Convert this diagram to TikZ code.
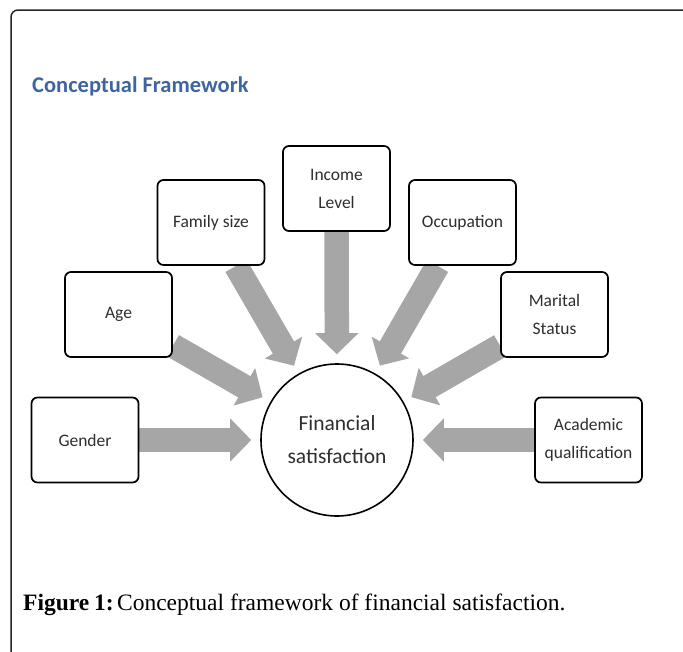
\documentclass[tikz,border=0pt]{standalone}
\usepackage{fontspec}
\setmainfont{Liberation Serif}
\newfontfamily\carlito{Carlito}
\usetikzlibrary{arrows.meta,backgrounds}
\definecolor{titleblue}{HTML}{3E65A0}
\definecolor{arrowgray}{HTML}{A6A6A6}
\definecolor{textgray}{HTML}{2E2E2E}
\begin{document}
\begin{tikzpicture}[x=1pt,y=-1pt,
  factor/.style={draw=black, line width=1.7pt, rounded corners=6pt, fill=white,
    minimum width=107pt, minimum height=85pt, inner sep=0pt, align=center,
    font=\carlito\fontsize{17.5}{28}\selectfont, text=textgray},
  hub/.style={circle, draw=black, line width=1.6pt, fill=white, minimum size=152pt,
    inner sep=0pt, align=center, font=\carlito\fontsize{21.5}{33}\selectfont, text=textgray},
  flow/.style={arrowgray, line width=24.5pt, -{Triangle[length=21pt,width=42pt]}, shorten >=9pt}]
\useasboundingbox (0,0) rectangle (683,651);
% outer frame
\draw[line width=1.5pt, rounded corners=7pt, draw=black!85] (11,670) -- (11,10) -- (700,10);
% title
\node[anchor=base west, inner sep=0pt, font=\carlito\bfseries\fontsize{22.5}{27}\selectfont, text=titleblue] (title) at (32,92) {Conceptual Framework};
% hub
\node[hub] (fs) at (337,440) {Financial\\satisfaction};
% factors
\node[factor] (gender) at (85,440) {Gender};
\node[factor] (age) at (118.5,314.5) {Age};
\node[factor] (family) at (211,222.5) {Family size};
\node[factor] (income) at (336.5,188.5) {Income\\Level};
\node[factor] (occupation) at (462.5,222.5) {Occupation};
\node[factor] (marital) at (554.5,314.5) {Marital\\Status};
\node[factor] (academic) at (588.5,440) {Academic\\qualification};
% arrows
\begin{scope}[on background layer]
\foreach \n in {gender,age,family,income,occupation,marital,academic}
  \draw[flow] (\n) -- (fs);
\end{scope}
% caption
\node[anchor=base west, inner sep=0pt, font=\fontsize{23.5}{28}\selectfont] (cap) at (23,610) {\textbf{Figure\hspace{0.2em}1:}\hspace{0.15em}Conceptual framework of financial satisfaction.};
\end{tikzpicture}
\end{document}
